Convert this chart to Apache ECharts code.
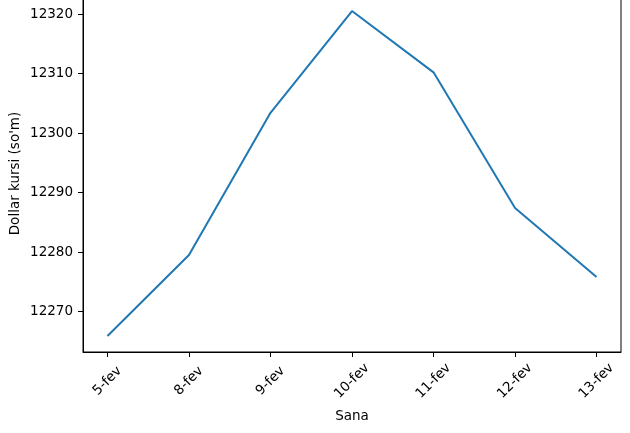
<!DOCTYPE html>
<html>
<head>
<meta charset="utf-8">
<script src="https://cdn.jsdelivr.net/npm/echarts@6/dist/echarts.min.js"></script>
<style>
  html, body { margin: 0; padding: 0; background: #ffffff; }
  #chart { width: 630px; height: 433px; }
</style>
</head>
<body>
<div id="chart"></div>
<script>
// Dollar kursi, fevral
const dates = ['5-fev', '8-fev', '9-fev', '10-fev', '11-fev', '12-fev', '13-fev'];
const rates = [12265.9, 12279.5, 12303.4, 12320.5, 12310.2, 12287.4, 12275.8];
const yTicks = [12270, 12280, 12290, 12300, 12310, 12320];

const font = 'DejaVu Sans';
const xIdx = dates.map((d, i) => i);

let chart = echarts.init(document.getElementById('chart'));
chart.setOption({
  animation: false,
  backgroundColor: '#ffffff',
  grid: {
    left: 83,
    right: 9,
    top: -5,
    bottom: 81,
    outerBoundsMode: 'none',
    containLabel: false,
    show: true,
    borderColor: '#000',
    borderWidth: 1
  },
  xAxis: {
    type: 'value',
    min: -0.3,
    max: 6.3,
    name: 'Sana',
    nameLocation: 'middle',
    nameGap: 57,
    nameMoveOverlap: false,
    nameTextStyle: { fontFamily: font, fontSize: 13.5, color: '#000' },
    splitLine: { show: false },
    axisLine: { onZero: false, lineStyle: { color: '#000', width: 1 } },
    axisTick: { show: true, length: 5, customValues: xIdx, lineStyle: { color: '#000' } },
    axisLabel: {
      customValues: xIdx,
      rotate: 45,
      align: 'center',
      verticalAlign: 'middle',
      margin: 29,
      fontFamily: font,
      fontSize: 13.5,
      color: '#000',
      formatter: function (v) { return dates[Math.round(v)] }
    }
  },
  yAxis: {
    type: 'value',
    min: 12263.2,
    max: 12323.2,
    name: 'Dollar kursi (so\'m)',
    nameLocation: 'middle',
    nameGap: 61,
    nameMoveOverlap: false,
    nameTextStyle: { fontFamily: font, fontSize: 13.5, color: '#000' },
    splitLine: { show: false },
    axisLine: { show: true, onZero: false, lineStyle: { color: '#000', width: 1 } },
    axisTick: { show: true, length: 5, customValues: yTicks, lineStyle: { color: '#000' } },
    axisLabel: {
      customValues: yTicks,
      margin: 10,
      fontFamily: font,
      fontSize: 13.5,
      color: '#000',
      formatter: function (v) { return String(v) }
    }
  },
  series: [
    {
      type: 'line',
      data: rates.map((v, i) => [i, v]),
      showSymbol: false,
      lineStyle: { color: '#1f77b4', width: 2 },
      itemStyle: { color: '#1f77b4' }
    }
  ]
})
</script>
</body>
</html>
